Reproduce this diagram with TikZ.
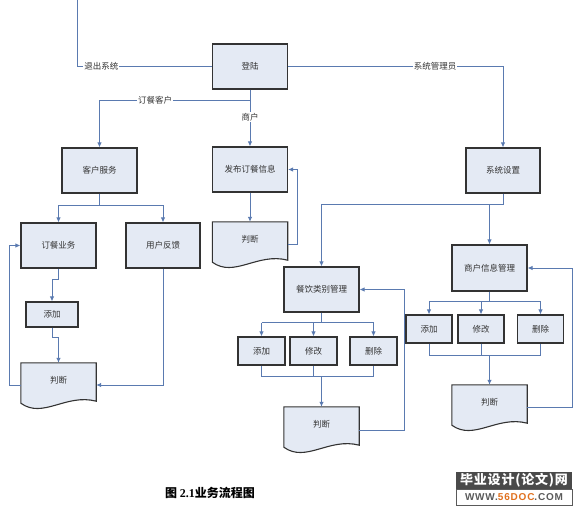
\documentclass[tikz,border=0pt]{standalone}
\usepackage{fontspec}
\newfontfamily\cjk{Noto Sans CJK SC}
\newfontfamily\serif{Liberation Serif}
\newfontfamily\wmsans{Liberation Sans}
\usetikzlibrary{arrows.meta}
\definecolor{boxc}{HTML}{E4EAF4}
\definecolor{bordc}{HTML}{333333}
\definecolor{linec}{HTML}{5A7AB0}
\definecolor{wmdark}{HTML}{4A4A4A}
\definecolor{wmorange}{HTML}{E0701E}
\definecolor{wmgray}{HTML}{5A5A5A}
\pgfdeclarelayer{background}
\pgfsetlayers{background,main}
\newcommand\boxfont{\cjk\fontsize{8.5}{10}\selectfont\color{bordc}}
\newcommand\docoutline[1]{%
  \draw[draw=bordc, fill=boxc, line width=1.1pt]
    (#1.north west) -- (#1.north east) -- ([yshift=-4pt]#1.south east)
    .. controls ([xshift=-30pt,yshift=4pt]#1.south east) and ([xshift=22pt,yshift=-22pt]#1.south west)
    .. ([yshift=-6pt]#1.south west) -- cycle;}
\tikzset{
  box/.style={draw=bordc, fill=boxc, line width=1.1pt, minimum width=75pt,
    minimum height=45pt, inner sep=0pt, font=\boxfont},
  sbox/.style={box, minimum width=47pt, minimum height=28pt},
  docn/.style={minimum width=75pt, minimum height=34pt, inner sep=0pt, font=\boxfont},
  conn/.style={draw=linec, line width=0.9pt},
  arr/.style={conn, -{Latex[length=5pt,width=4.5pt]}},
  bigarr/.style={arr, line width=1.7pt},
  lbl/.style={fill=white, inner sep=1pt, font=\boxfont},
}
\begin{document}
\begin{tikzpicture}[x=1pt,y=-1pt]
\useasboundingbox (0,0) rectangle (581,511);

% boxes
\node[box] (login) at (250,66.5) {登陆};
\node[box] (khfw) at (99.5,170.5) {客户服务};
\node[box] (fbdc) at (250,169.5) {发布订餐信息};
\node[box, minimum width=74pt] (xtsz) at (503,170.5) {系统设置};
\node[box] (dcyw) at (58.5,245.5) {订餐业务};
\node[box, minimum width=74pt] (yhfk) at (163,245.5) {用户反馈};
\node[sbox, minimum width=52pt, minimum height=25pt] (add1) at (52,314.5) {添加};
\node[box] (cy) at (321.5,289.5) {餐饮类别管理};
\node[box, minimum height=46pt] (sh) at (489.5,268) {商户信息管理};
\node[sbox] (cadd) at (261.5,351) {添加};
\node[sbox] (cmod) at (313.5,351) {修改};
\node[sbox] (cdel) at (373.5,351) {删除};
\node[sbox, minimum width=46pt] (sadd) at (429,329) {添加};
\node[sbox, minimum width=46pt] (smod) at (481,329) {修改};
\node[sbox, minimum width=46pt] (sdel) at (540.5,329) {删除};

% documents
\node[docn] (d1) at (58.5,380) {判断};
\node[docn] (d2) at (250,239) {判断};
\node[docn] (d3) at (321.5,424) {判断};
\node[docn] (d4) at (489.5,402) {判断};
\begin{pgfonlayer}{background}
\docoutline{d1}
\docoutline{d2}
\docoutline{d3}
\docoutline{d4}
\end{pgfonlayer}

% top connectors
\coordinate (exitc) at (77,-2);
\draw[conn] (login.west) -| node[lbl, pos=0.41] {退出系统} (exitc);
\draw[arr] (login.east) -| node[lbl, pos=0.342] {系统管理员} (xtsz.north);
\draw[conn] (login.south) -- ++(0,11) coordinate (lj);
\draw[arr] (lj) -| node[lbl, pos=0.315] {订餐客户} (khfw.north);
\draw[arr] (lj) -- node[lbl, pos=0.36] {商户} (fbdc.north);

% customer branch
\draw[conn] (khfw.south) -- ++(0,12) coordinate (kj);
\draw[arr] (kj) -| (dcyw.north);
\draw[arr] (kj) -| (yhfk.north);
\draw[arr] (dcyw.south) -- ++(0,11) -| (add1.north);
\draw[arr] (add1.south) -- ++(0,10) -| (d1.north);
\draw[arr] ([yshift=-5pt]d1.west) -- ++(-11,0) |- (dcyw.west);
\draw[arr] (yhfk.south) |- ([yshift=-5pt]d1.east);

% merchant publish
\draw[arr] (fbdc.south) -- (d2.north);
\draw[arr] ([yshift=-5pt]d2.east) -- ++(10,0) |- (fbdc.east);

% system settings
\draw[conn] (xtsz.south) -- ++(0,11) coordinate (xj);
\draw[arr] (xj) -| (cy.north);
\draw[arr] (sh.north |- xj) -- (sh.north);

% catering category management
\draw[conn] (cy.south) -- ++(0,10) coordinate (cj);
\draw[conn] (cadd.north |- cj) -- (cdel.north |- cj);
\draw[arr] (cadd.north |- cj) -- (cadd.north);
\draw[arr] (cmod.north |- cj) -- (cmod.north);
\draw[arr] (cdel.north |- cj) -- (cdel.north);
\draw[conn] (cadd.south) -- ++(0,11) coordinate (cm) -| (cdel.south);
\draw[conn] (cmod.south) -- (cmod.south |- cm);
\draw[bigarr] (d3.north |- cm) -- (d3.north);
\draw[arr] ([yshift=-6pt]d3.east) -- ++(45,0) |- (cy.east);

% merchant info management
\draw[conn] (sh.south) -- ++(0,10) coordinate (sj);
\draw[conn] (sadd.north |- sj) -- (sdel.north |- sj);
\draw[arr] (sadd.north |- sj) -- (sadd.north);
\draw[arr] (smod.north |- sj) -- (smod.north);
\draw[arr] (sdel.north |- sj) -- (sdel.north);
\draw[conn] (sadd.south) -- ++(0,12) coordinate (sm) -| (sdel.south);
\draw[conn] (smod.south) -- (smod.south |- sm);
\draw[bigarr] (d4.north |- sm) -- (d4.north);
\draw[arr] ([yshift=-5pt]d4.east) -- ++(45,0) |- (sh.east);

% caption
\node (cap) at (210,493) {\fontsize{12}{12}\selectfont\cjk\bfseries 图 {\serif\bfseries 2.1}业务流程图};

% watermark
\node[fill=wmdark, text=white, minimum width=116pt, minimum height=17pt, inner sep=0pt,
      font=\cjk\bfseries\fontsize{13}{13}\selectfont] (wm1) at (514,480.5)
      {\addfontfeature{LetterSpace=6}毕业设计(论文)网};
\node[draw=wmgray, fill=white, minimum width=116pt, minimum height=16pt, inner sep=0pt,
      font=\wmsans\bfseries\fontsize{10}{10}\selectfont, text=wmgray, anchor=north] (wm2) at (wm1.south)
      {\addfontfeature{LetterSpace=8}WWW.\textcolor{wmorange}{56DOC}.COM};
\end{tikzpicture}
\end{document}
